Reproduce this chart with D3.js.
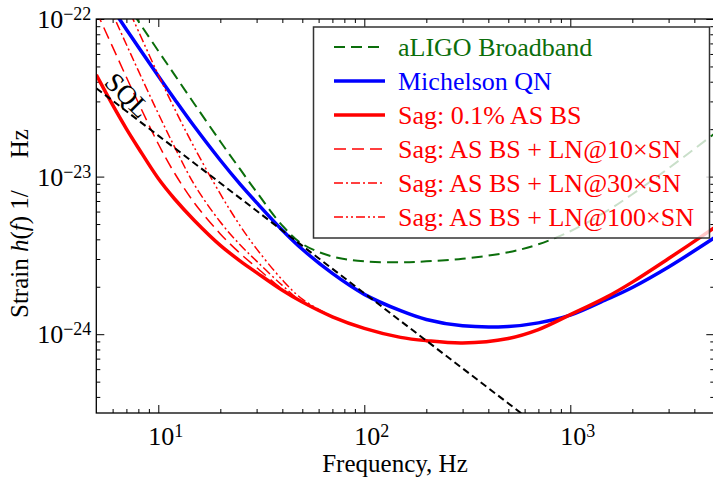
<!DOCTYPE html>
<html>
<head>
<meta charset="utf-8">
<script src="https://cdn.jsdelivr.net/npm/d3@7"></script>
<style>
  body { margin: 0; background: #fff; }
  svg { display: block; font-family: "Liberation Serif", "DejaVu Serif", serif; }
  .axis path { display: none; }
  .axis line { stroke: #000; stroke-width: 1; }
</style>
</head>
<body>
<svg width="713" height="481"></svg>
<script>
// frequency grid (Hz) the curves were read at
var freq = [5, 6, 7, 8, 10, 12, 15, 20, 25, 30, 40, 50, 70, 100, 150, 200, 300, 500, 700, 1000, 1500, 2000, 3000, 5000];

var aligo = [2.49e-22, 1.71e-22, 1.26e-22, 9.68e-23, 6.27e-23, 4.42e-23, 2.88e-23, 1.67e-23, 1.11e-23, 7.98e-24, 4.89e-24, 3.74e-24,
             3.11e-24, 2.90e-24, 2.86e-24, 2.90e-24, 3.01e-24, 3.31e-24, 3.72e-24, 4.50e-24, 6.03e-24, 7.73e-24, 1.13e-23, 1.87e-23];
var michelson = [1.66e-22, 1.16e-22, 8.59e-23, 6.64e-23, 4.35e-23, 3.10e-23, 2.07e-23, 1.27e-23, 8.93e-24, 6.84e-24, 4.57e-24, 3.46e-24,
                 2.43e-24, 1.79e-24, 1.41e-24, 1.24e-24, 1.13e-24, 1.12e-24, 1.18e-24, 1.32e-24, 1.66e-24, 1.98e-24, 2.67e-24, 4.09e-24];
var sagAsBs = [4.42e-23, 2.85e-23, 2.01e-23, 1.52e-23, 9.72e-24, 7.21e-24, 5.25e-24, 3.66e-24, 2.91e-24, 2.46e-24, 1.90e-24, 1.60e-24,
               1.29e-24, 1.09e-24, 9.55e-25, 9.1e-25, 8.8e-25, 9.4e-25, 1.07e-24, 1.33e-24, 1.72e-24, 2.14e-24, 3.02e-24, 4.73e-24];

// laser noise curves only differ below ~70 Hz
var freqLN = [5, 6, 7, 8, 10, 12, 15, 20, 25, 30, 40, 50, 70];
var sagLN10 = [1.12e-22, 6.65e-23, 4.27e-23, 2.94e-23, 1.61e-23, 1.05e-23, 6.78e-24, 4.33e-24, 3.25e-24, 2.65e-24, 1.93e-24, 1.59e-24, 1.29e-24];
var sagLN30 = [1.90e-22, 1.08e-22, 6.89e-23, 4.70e-23, 2.51e-23, 1.54e-23, 8.85e-24, 5.15e-24, 3.68e-24, 2.91e-24, 2.04e-24, 1.60e-24, 1.29e-24];
var sagLN100 = [3.52e-22, 1.99e-22, 1.24e-22, 8.39e-23, 4.42e-23, 2.69e-23, 1.52e-23, 7.76e-24, 4.86e-24, 3.48e-24, 2.21e-24, 1.67e-24, 1.29e-24];

var freqSQL = [5, 10, 100, 1000];
var sql = [3.64e-23, 1.82e-23, 1.82e-24, 1.82e-25];

var xMajor = [10, 100, 1000], xMajorExp = ["1", "2", "3"];
var yMajor = [1e-22, 1e-23, 1e-24], yMajorExp = ["\u221222", "\u221223", "\u221224"];

var legendNames = ["aLIGO Broadband", "Michelson QN", "Sag: 0.1% AS BS",
                   "Sag: AS BS + LN@10\u00d7SN", "Sag: AS BS + LN@30\u00d7SN", "Sag: AS BS + LN@100\u00d7SN"];

var svg = d3.select("svg"),
    margin = {top: 19, left: 96.3},
    width = 618,
    height = 394;

var g = svg.append("g").attr("transform", "translate(" + margin.left + "," + margin.top + ")");

var x = d3.scaleLog().domain([5, 5000]).range([0, width]);
var y = d3.scaleLog().domain([Math.pow(10, -24.5), 1e-22]).range([height, 0]);

function zip(xs, ys) { return xs.map(function(f, i) { return {f: f, h: ys[i]}; }); }

var line = d3.line()
    .x(function(d) { return x(d.f); })
    .y(function(d) { return y(d.h); })
    .curve(d3.curveCatmullRom.alpha(0.5));

var series = [
  {name: legendNames[0], data: zip(freq, aligo), color: "#0b6e0b", w: 2, dash: "11,6"},
  {name: legendNames[1], data: zip(freq, michelson), color: "#0000ff", w: 3.5, dash: null},
  {name: legendNames[2], data: zip(freq, sagAsBs), color: "#ff0000", w: 3.5, dash: null},
  {name: legendNames[3], data: zip(freqLN, sagLN10), color: "#ff0000", w: 1.5, dash: "12,6"},
  {name: legendNames[4], data: zip(freqLN, sagLN30), color: "#ff0000", w: 1.5, dash: "9,3,2,3"},
  {name: legendNames[5], data: zip(freqLN, sagLN100), color: "#ff0000", w: 1.5, dash: "9,3,2,3,2,3"}
];

// minor ticks
var xMinor = [], yMinor = [];
[1, 10, 100, 1000].forEach(function(b) {
  for (var k = 2; k < 10; k++) { var v = b * k; if (v > 5 && v < 5000) xMinor.push(v); }
});
[1e-25, 1e-24, 1e-23].forEach(function(b) {
  for (var k = 2; k < 10; k++) { var v = b * k; if (v > 3.2e-25 && v < 1e-22) yMinor.push(v); }
});

function ticks(axisFn, scale, vals, size) {
  return axisFn(scale).tickValues(vals).tickSizeInner(-size).tickSizeOuter(0).tickFormat("");
}

g.append("g").attr("class", "axis").attr("transform", "translate(0," + height + ")").call(ticks(d3.axisBottom, x, xMajor, 8));
g.append("g").attr("class", "axis").attr("transform", "translate(0," + height + ")").call(ticks(d3.axisBottom, x, xMinor, 4));
g.append("g").attr("class", "axis").call(ticks(d3.axisTop, x, xMajor, 8));
g.append("g").attr("class", "axis").call(ticks(d3.axisTop, x, xMinor, 4));
g.append("g").attr("class", "axis").call(ticks(d3.axisLeft, y, yMajor, 8));
g.append("g").attr("class", "axis").call(ticks(d3.axisLeft, y, yMinor, 4));
g.append("g").attr("class", "axis").attr("transform", "translate(" + width + ",0)").call(ticks(d3.axisRight, y, yMajor, 8));
g.append("g").attr("class", "axis").attr("transform", "translate(" + width + ",0)").call(ticks(d3.axisRight, y, yMinor, 4));

svg.append("defs").append("clipPath").attr("id", "clip")
  .append("rect").attr("width", width).attr("height", height);

var plot = g.append("g").attr("clip-path", "url(#clip)");

series.forEach(function(s) {
  plot.append("path")
      .datum(s.data)
      .attr("fill", "none")
      .attr("stroke", s.color)
      .attr("stroke-width", s.w)
      .attr("stroke-dasharray", s.dash)
      .attr("d", line);
});

plot.append("path")
    .datum(zip(freqSQL, sql))
    .attr("fill", "none")
    .attr("stroke", "#000")
    .attr("stroke-width", 2)
    .attr("stroke-dasharray", "7,4")
    .attr("d", d3.line().x(function(d) { return x(d.f); }).y(function(d) { return y(d.h); }));

g.append("text")
    .attr("transform", "translate(" + x(6.6) + "," + (y(2.4e-23) - 15) + ") rotate(45)")
    .attr("text-anchor", "middle")
    .style("font-size", "27px")
    .text("SQL");

// frame
g.append("rect").attr("width", width).attr("height", height)
    .attr("fill", "none").attr("stroke", "#000").attr("stroke-width", 1.3);

// tick labels with superscripts
xMajor.forEach(function(v, i) {
  var t = g.append("text").attr("x", x(v) - 10).attr("y", height + 31.5).style("font-size", "26px");
  t.append("tspan").text("10");
  t.append("tspan").attr("dy", -8).style("font-size", "18px").text(xMajorExp[i]);
});
yMajor.forEach(function(v, i) {
  var t = g.append("text").attr("x", -5).attr("y", y(v) + 9).attr("text-anchor", "end").style("font-size", "26px");
  t.append("tspan").text("10");
  t.append("tspan").attr("dy", -8).style("font-size", "18px").text(yMajorExp[i]);
});

svg.append("text")
    .attr("x", 395).attr("y", 472)
    .attr("text-anchor", "middle")
    .style("font-size", "25px")
    .text("Frequency, Hz");

var yl = svg.append("text")
    .attr("transform", "translate(28,318) rotate(-90)")
    .style("font-size", "25px");
yl.append("tspan").text("Strain ");
yl.append("tspan").style("font-style", "italic").text("h");
yl.append("tspan").text("(");
yl.append("tspan").style("font-style", "italic").text("f");
yl.append("tspan").text(") 1/");
yl.append("tspan").attr("dx", 32).text("Hz");

// legend
var leg = svg.append("g");
leg.append("rect")
    .attr("x", 313.5).attr("y", 27).attr("width", 396).attr("height", 211)
    .attr("fill", "#fff").attr("fill-opacity", 0.78)
    .attr("stroke", "#333").attr("stroke-width", 1.5);

series.forEach(function(s, i) {
  var yy = 47 + i * 34;
  leg.append("line")
      .attr("x1", 334).attr("x2", 385).attr("y1", yy).attr("y2", yy)
      .attr("stroke", s.color).attr("stroke-width", s.w)
      .attr("stroke-dasharray", s.dash);
  leg.append("text")
      .attr("x", 398).attr("y", yy + 9)
      .attr("fill", s.color)
      .style("font-size", "26px")
      .text(s.name);
});
</script>
</body>
</html>
